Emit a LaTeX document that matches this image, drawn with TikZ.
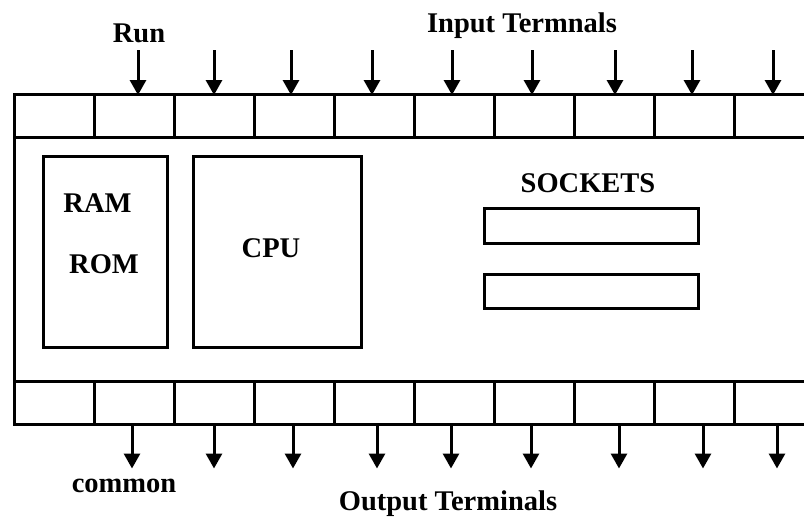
\documentclass[tikz,border=0pt]{standalone}
\usepackage{fontspec}
\setmainfont{Liberation Serif}
\usetikzlibrary{arrows.meta}
\begin{document}
\begin{tikzpicture}[x=1pt,y=-1pt,
  line width=3pt,
  cell/.style={draw, line width=3pt, minimum width=80pt, minimum height=43pt, inner sep=0pt, outer sep=0pt},
  box/.style={draw, line width=3pt, inner sep=0pt, outer sep=0pt},
  lbl/.style={font=\fontsize{28.5}{28.5}\selectfont\bfseries, inner sep=0pt, anchor=base},
  pin/.style={line width=3pt, -{Triangle[width=16pt,length=15pt]}, shorten >=-1pt}]
\useasboundingbox (0,0) rectangle (804,517);
% top and bottom rows of terminal cells
\foreach \i in {1,...,10} {
  \node[cell] (t\i) at ({14+80*(\i-1)+40},115.5) {};
  \node[cell] (b\i) at ({14+80*(\i-1)+40},403) {};
}
% body left edge
\draw[line width=3pt] (t1.south west) -- (b1.north west);
% inner blocks
\node[box, minimum width=124pt, minimum height=191pt] (mem) at (105,251.5) {};
\node[box, minimum width=168pt, minimum height=191pt] (cpu) at (277,251.5) {};
\node[box, minimum width=214pt, minimum height=35pt] (s1) at (591,225.5) {};
\node[box, minimum width=214pt, minimum height=34pt] (s2) at (591,291) {};
% texts
\node[lbl] (ram) at (97.5,212) {RAM};
\node[lbl] (rom) at (104,273) {ROM};
\node[lbl] (cpulbl) at (271,257) {CPU};
\node[lbl] (sock) at (588,192) {SOCKETS};
\node[lbl] (run) at (139,42) {Run};
\node[lbl] (inp) at (522,32) {Input Termnals};
\node[lbl] (com) at (124,492) {common};
\node[lbl] (out) at (448,510) {Output Terminals};
% input arrows
\foreach \i/\dx in {2/4,3/0,4/-3,5/-2,6/-2,7/-2,8/1,9/-2,10/-1} {
  \coordinate (ti\i) at ([xshift=\dx pt, yshift=44pt]t\i.north);
  \draw[pin] (ti\i) -- ([xshift=\dx pt]t\i.north);
}
% output arrows
\foreach \i/\dx in {2/-2,3/0,4/-1,5/3,6/-3,7/-3,8/5,9/9,10/3} {
  \coordinate (bo\i) at ([xshift=\dx pt, yshift=-43pt]b\i.south);
  \draw[pin] ([xshift=\dx pt]b\i.south) -- (bo\i);
}
\end{tikzpicture}
\end{document}
